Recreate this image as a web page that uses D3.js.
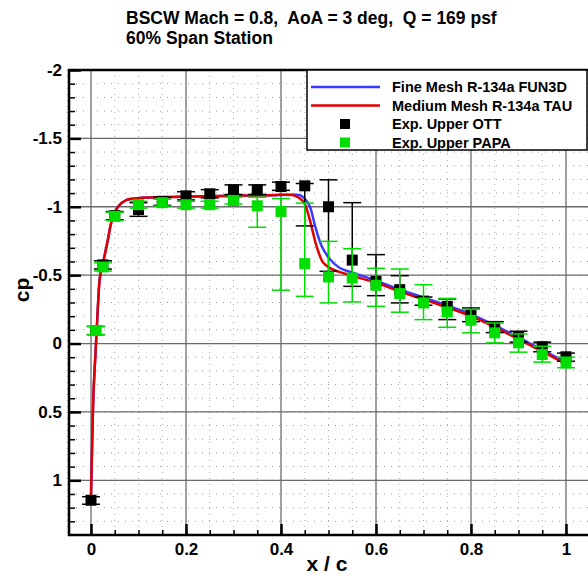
<!DOCTYPE html>
<html>
<head>
<meta charset="utf-8">
<script src="https://cdn.jsdelivr.net/npm/d3@7"></script>
<style>
body{margin:0;background:#fff;}
text{font-family:"Liberation Sans",Arial,sans-serif;font-weight:bold;}
</style>
</head>
<body>
<svg id="chart" width="588" height="576"></svg>
<script>
// titles
var titleLines = ['BSCW Mach = 0.8,  AoA = 3 deg,  Q = 169 psf', '60% Span Station'];
var legendNames = ['Fine Mesh R-134a FUN3D', 'Medium Mesh R-134a TAU', 'Exp. Upper OTT', 'Exp. Upper PAPA'];
var xTicks = [0, 0.2, 0.4, 0.6, 0.8, 1];
var yTicks = [-2, -1.5, -1, -0.5, 0, 0.5, 1];

// TAU medium mesh (red)
var tauX  = [0.0, 0.002, 0.004, 0.006, 0.009, 0.012, 0.015, 0.019, 0.026, 0.035, 0.044, 0.057, 0.075, 0.1, 0.15, 0.22, 0.3, 0.38, 0.425, 0.44, 0.45, 0.461, 0.475, 0.489, 0.504, 0.545, 0.6, 0.65, 0.72, 0.8, 0.87, 0.94, 1.0];
var tauCp = [1.12, 0.8, 0.5, 0.3, 0.1, -0.1, -0.3, -0.49, -0.6, -0.75, -0.9, -1.0, -1.05, -1.063, -1.07, -1.075, -1.08, -1.085, -1.085, -1.06, -1.02, -0.9, -0.71, -0.59, -0.55, -0.5, -0.445, -0.38, -0.3, -0.2, -0.085, 0.04, 0.15];
// FUN3D fine mesh (blue)
var funX  = [0.0, 0.002, 0.004, 0.006, 0.009, 0.012, 0.015, 0.019, 0.026, 0.035, 0.044, 0.057, 0.075, 0.1, 0.15, 0.22, 0.3, 0.38, 0.425, 0.44, 0.452, 0.461, 0.472, 0.486, 0.504, 0.524, 0.552, 0.6, 0.65, 0.72, 0.8, 0.87, 0.94, 1.0];
var funCp = [1.12, 0.8, 0.5, 0.3, 0.1, -0.1, -0.3, -0.49, -0.6, -0.75, -0.9, -1.0, -1.05, -1.063, -1.07, -1.075, -1.08, -1.085, -1.088, -1.085, -1.05, -1.0, -0.856, -0.71, -0.613, -0.552, -0.516, -0.46, -0.395, -0.313, -0.213, -0.098, 0.028, 0.138];

// experiment OTT (black): x, cp, error bar low/high
var ottX   = [0.0, 0.01, 0.025, 0.05, 0.1, 0.15, 0.2, 0.25, 0.3, 0.35, 0.4, 0.45, 0.5, 0.55, 0.6, 0.65, 0.7, 0.75, 0.8, 0.85, 0.9, 0.95, 1.0];
var ottCp  = [1.146, -0.095, -0.575, -0.935, -0.98, -1.04, -1.08, -1.095, -1.124, -1.124, -1.148, -1.153, -1.0, -0.61, -0.455, -0.394, -0.31, -0.272, -0.212, -0.122, -0.049, 0.024, 0.097];
var ottLo  = [1.12, -0.125, -0.605, -0.965, -1.03, -1.07, -1.11, -1.125, -1.16, -1.16, -1.18, -1.17, -1.197, -1.03, -0.65, -0.496, -0.34, -0.326, -0.26, -0.16, -0.09, -0.01, 0.07];
var ottHi  = [1.175, -0.065, -0.545, -0.905, -0.93, -1.01, -1.05, -1.065, -1.09, -1.09, -1.12, -0.86, -0.528, -0.418, -0.35, -0.297, -0.28, -0.175, -0.16, -0.08, -0.01, 0.06, 0.13];

// experiment PAPA (green)
var papaX  = [0.01, 0.025, 0.05, 0.1, 0.15, 0.2, 0.25, 0.3, 0.35, 0.4, 0.45, 0.5, 0.55, 0.6, 0.65, 0.7, 0.75, 0.8, 0.85, 0.9, 0.95, 1.0];
var papaCp = [-0.095, -0.56, -0.93, -1.015, -1.03, -1.015, -1.015, -1.046, -1.007, -0.966, -0.584, -0.487, -0.479, -0.426, -0.365, -0.297, -0.231, -0.17, -0.078, -0.005, 0.08, 0.141];
var papaLo = [-0.125, -0.59, -0.96, -1.04, -1.055, -1.04, -1.04, -1.07, -1.07, -1.06, -1.027, -0.747, -0.693, -0.55, -0.545, -0.43, -0.33, -0.25, -0.15, -0.07, 0.02, 0.1];
var papaHi = [-0.065, -0.53, -0.9, -0.99, -1.005, -0.99, -0.99, -1.02, -0.85, -0.39, -0.345, -0.297, -0.304, -0.272, -0.229, -0.175, -0.119, -0.078, -0.005, 0.063, 0.136, 0.177];

var svg = d3.select('#chart');
var plotLeft = 69, plotTop = 70, plotBottom = 535;

var x = d3.scaleLinear().domain([-0.05, 1.05]).range([91 - 0.05*475, 91 + 1.05*475]);
var y = d3.scaleLinear().domain([-2, 1.4]).range([plotTop, plotBottom]);
var plotRight = x(1.05);

//title
svg.selectAll('.title').data(titleLines).enter()
	.append('text')
	.attr('x', 126)
	.attr('y', function(d,i){return 24 + i*19.5})
	.style('font-size', '17.5px')
	.style('white-space', 'pre')
	.text(function(d){return d});

//minor dotted grid
svg.append('g').selectAll('line').data(d3.range(-1, 22).map(function(i){return i*0.05})).enter()
	.append('line')
	.attr('x1', function(d){return x(d)}).attr('x2', function(d){return x(d)})
	.attr('y1', plotTop).attr('y2', plotBottom)
	.attr('stroke', '#aaa').attr('stroke-width', 1).attr('stroke-dasharray', '1,5');
svg.append('g').selectAll('line').data(d3.range(-20, 15).map(function(i){return i*0.1})).enter()
	.append('line')
	.attr('y1', function(d){return y(d)}).attr('y2', function(d){return y(d)})
	.attr('x1', plotLeft).attr('x2', plotRight)
	.attr('stroke', '#999').attr('stroke-width', 1).attr('stroke-dasharray', '1,6');

//major grid
svg.append('g').selectAll('line').data(xTicks).enter()
	.append('line')
	.attr('x1', function(d){return x(d)}).attr('x2', function(d){return x(d)})
	.attr('y1', plotTop).attr('y2', plotBottom)
	.attr('stroke', '#8a8a8a').attr('stroke-width', 1.6);
svg.append('g').selectAll('line').data(yTicks).enter()
	.append('line')
	.attr('y1', function(d){return y(d)}).attr('y2', function(d){return y(d)})
	.attr('x1', plotLeft).attr('x2', plotRight)
	.attr('stroke', '#6a6a6a').attr('stroke-width', 1.3);

//axes, ticks point inwards; plain hyphen for negatives
var fmt = function(d){return String(d)};
var gx = svg.append('g').attr('transform', 'translate(0,' + plotBottom + ')')
	.call(d3.axisBottom(x).tickValues(xTicks).tickFormat(fmt).tickSize(-11).tickPadding(8));
var gxm = svg.append('g').attr('transform', 'translate(0,' + plotBottom + ')')
	.call(d3.axisBottom(x).tickValues(d3.range(0, 21).map(function(i){return i*0.05})).tickFormat('').tickSize(-5));
var gy = svg.append('g').attr('transform', 'translate(' + plotLeft + ',0)')
	.call(d3.axisLeft(y).tickValues(yTicks).tickFormat(fmt).tickSize(-12).tickPadding(7));
var gym = svg.append('g').attr('transform', 'translate(' + plotLeft + ',0)')
	.call(d3.axisLeft(y).tickValues(d3.range(-20, 14).map(function(i){return i*0.1})).tickFormat('').tickSize(-6));
[gx, gxm, gy, gym].forEach(function(g){
	g.select('.domain').remove();
	g.selectAll('line').attr('stroke', '#000').attr('stroke-width', 2.5);
	g.selectAll('text').attr('fill', '#000')
		.style('font-family', '"Liberation Sans",Arial,sans-serif').style('font-weight', 'bold').style('font-size', '17px');
});
gym.selectAll('line').attr('stroke-width', 1.5);
gxm.selectAll('line').attr('stroke-width', 1.5);

//lines
var line = d3.line()
	.x(function(d){return x(d[0])})
	.y(function(d){return y(d[1])})
	.curve(d3.curveCatmullRom.alpha(0.5));
svg.append('path').datum(d3.zip(funX, funCp))
	.attr('d', line).attr('fill', 'none').attr('stroke', '#3a3aff').attr('stroke-width', 2.5);
svg.append('path').datum(d3.zip(tauX, tauCp))
	.attr('d', line).attr('fill', 'none').attr('stroke', '#e00000').attr('stroke-width', 2.5);

//markers with error bars
function drawExp(xs, cps, lo, hi, color){
	var g = svg.append('g');
	var capW = 9, sq = 11;
	xs.forEach(function(xv, i){
		var px = x(xv);
		g.append('line').attr('x1', px).attr('x2', px).attr('y1', y(lo[i])).attr('y2', y(hi[i]))
			.attr('stroke', color).attr('stroke-width', 1.5);
		[lo[i], hi[i]].forEach(function(e){
			g.append('line').attr('x1', px - capW).attr('x2', px + capW).attr('y1', y(e)).attr('y2', y(e))
				.attr('stroke', color).attr('stroke-width', 1.5);
		});
		g.append('rect').attr('x', px - sq/2).attr('y', y(cps[i]) - sq/2)
			.attr('width', sq).attr('height', sq).attr('fill', color);
	});
}
drawExp(ottX, ottCp, ottLo, ottHi, '#000');
drawExp(papaX, papaCp, papaLo, papaHi, '#00dd00');

//frame
svg.append('rect').attr('x', plotLeft).attr('y', plotTop).attr('width', plotRight - plotLeft).attr('height', plotBottom - plotTop)
	.attr('fill', 'none').attr('stroke', '#000').attr('stroke-width', 2.5);

//legend
var lg = svg.append('g');
lg.append('rect').attr('x', 307).attr('y', plotTop).attr('width', 280).attr('height', 80)
	.attr('fill', '#fff').attr('stroke', '#000').attr('stroke-width', 1.5);
var legendColors = ['#3a3aff', '#e00000', '#000', '#00dd00'];
legendNames.forEach(function(name, i){
	var cy = 87 + i*18.5;
	if (i < 2){
		lg.append('line').attr('x1', 311).attr('x2', 380).attr('y1', cy).attr('y2', cy)
			.attr('stroke', legendColors[i]).attr('stroke-width', 2.5);
	} else {
		lg.append('rect').attr('x', 340).attr('y', cy - 5).attr('width', 10).attr('height', 10)
			.attr('fill', legendColors[i]);
	}
	lg.append('text').attr('x', 392).attr('y', cy + 5).style('font-size', '14.5px').text(name);
});

//axis titles
svg.append('text').attr('x', 327).attr('y', 571).attr('text-anchor', 'middle').style('font-size', '21px').text('x / c');
svg.append('text').attr('transform', 'translate(29,290) rotate(-90)').attr('text-anchor', 'middle').style('font-size', '21px').text('cp');
</script>
</body>
</html>
